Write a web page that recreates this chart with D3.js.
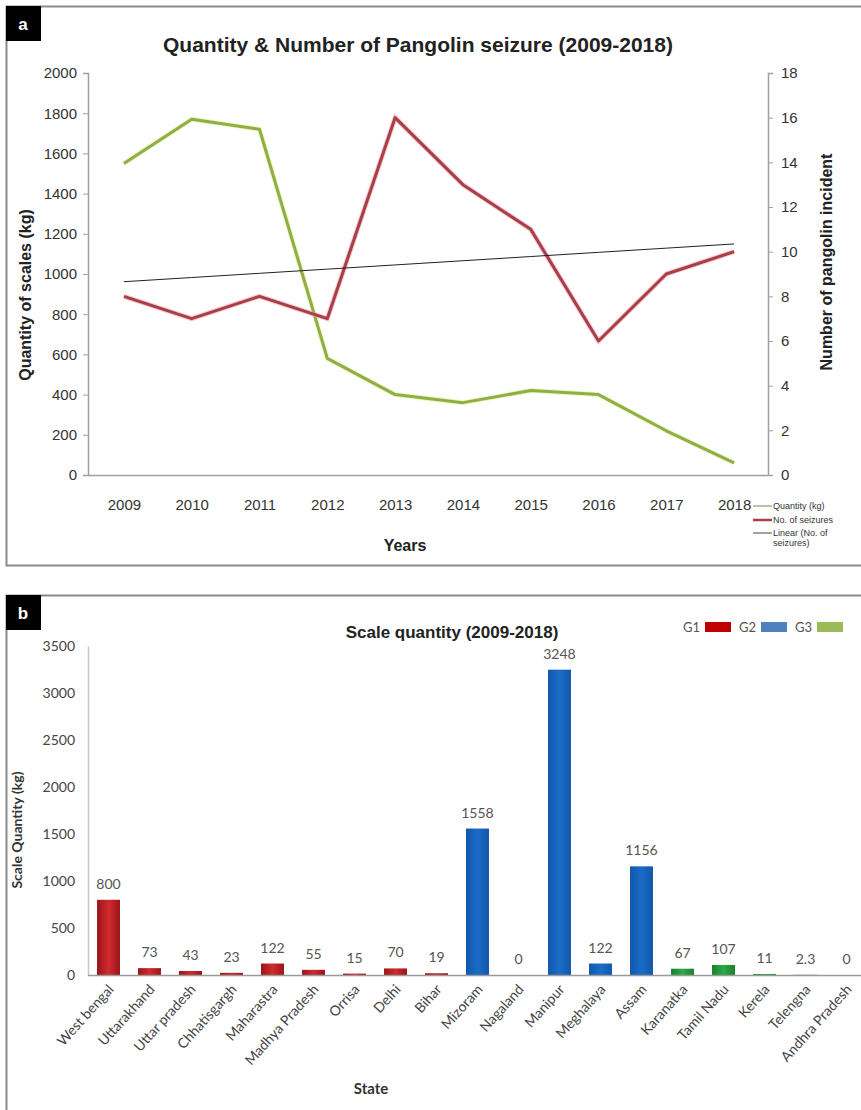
<!DOCTYPE html>
<html>
<head>
<meta charset="utf-8">
<script src="https://cdn.jsdelivr.net/npm/d3@7"></script>
<style>
  html, body { margin: 0; padding: 0; background: #fff; }
  svg { display: block; font-family: "Liberation Sans", Arial, sans-serif; }
</style>
</head>
<body>
<svg id="chart" width="861" height="1110"></svg>
<script>
// ---- Panel a: yearly seizures ----
const years = [2009, 2010, 2011, 2012, 2013, 2014, 2015, 2016, 2017, 2018];
const quantityKg = [1550, 1770, 1720, 580, 400, 360, 420, 400, 220, 60];
const seizures = [8, 7, 8, 7, 16, 13, 11, 6, 9, 10];
const leftTicks = [0, 200, 400, 600, 800, 1000, 1200, 1400, 1600, 1800, 2000];
const rightTicks = [0, 2, 4, 6, 8, 10, 12, 14, 16, 18];

// ---- Panel b: scale quantity by state ----
const states = ["West bengal", "Uttarakhand", "Uttar pradesh", "Chhatisgargh", "Maharastra",
  "Madhya Pradesh", "Orrisa", "Delhi", "Bihar", "Mizoram", "Nagaland", "Manipur",
  "Meghalaya", "Assam", "Karanatka", "Tamil Nadu", "Kerela", "Telengna", "Andhra Pradesh"];
const scaleQty = [800, 73, 43, 23, 122, 55, 15, 70, 19, 1558, 0, 3248, 122, 1156, 67, 107, 11, 2.3, 0];
const stateGroup = ["G1", "G1", "G1", "G1", "G1", "G1", "G1", "G1", "G1",
  "G2", "G2", "G2", "G2", "G2", "G3", "G3", "G3", "G3", "G3"];
const qtyTicks = [0, 500, 1000, 1500, 2000, 2500, 3000, 3500];
const groupNames = ["G1", "G2", "G3"];

const svg = d3.select("#chart");
const defs = svg.append("defs");

function barGradient(id, edge, mid) {
  const g = defs.append("linearGradient").attr("id", id)
    .attr("x1", "0%").attr("x2", "100%").attr("y1", "0%").attr("y2", "0%");
  g.append("stop").attr("offset", "0%").attr("stop-color", edge);
  g.append("stop").attr("offset", "50%").attr("stop-color", mid);
  g.append("stop").attr("offset", "100%").attr("stop-color", edge);
}
barGradient("gradG1", "#9a1519", "#d02a2e");
barGradient("gradG2", "#1257ab", "#1a6cc8");
barGradient("gradG3", "#17812c", "#2bab47");
const barFill = { G1: "url(#gradG1)", G2: "url(#gradG2)", G3: "url(#gradG3)" };
const legendFill = { G1: "#c00000", G2: "#4f81bd", G3: "#9bbb59" };

// ---------- Panel frames ----------
svg.append("path")
  .attr("d", "M861,6.5 H6.5 V565.5 H861")
  .attr("fill", "none").attr("stroke", "#8a8a8a").attr("stroke-width", 2);
svg.append("path")
  .attr("d", "M861,595.5 H6.5 V1110")
  .attr("fill", "none").attr("stroke", "#8a8a8a").attr("stroke-width", 2);

function panelTag(x, y, letter) {
  svg.append("rect").attr("x", x).attr("y", y).attr("width", 35).attr("height", 35).attr("fill", "#000");
  svg.append("text").attr("x", x + 17).attr("y", y + 24).attr("text-anchor", "middle")
    .attr("fill", "#fff").attr("font-size", 17).attr("font-weight", "bold").text(letter);
}
panelTag(6, 6, "a");
panelTag(6, 595, "b");

// ---------- Panel a ----------
const xA = d3.scalePoint().domain(years).range([90, 768]).padding(0.5);
const yL = d3.scaleLinear().domain([0, 2000]).range([475, 73]);
const yR = d3.scaleLinear().domain([0, 18]).range([475, 73]);

svg.append("text").attr("x", 418).attr("y", 52).attr("text-anchor", "middle")
  .attr("font-size", 21).attr("font-weight", "bold").attr("fill", "#222")
  .text("Quantity & Number  of Pangolin seizure (2009-2018)");

const axL = svg.append("g").attr("transform", "translate(88,0)")
  .call(d3.axisLeft(yL).tickValues(leftTicks).tickSize(5).tickPadding(6).tickFormat(d3.format("d")));
const axR = svg.append("g").attr("transform", "translate(768,0)")
  .call(d3.axisRight(yR).tickValues(rightTicks).tickSize(5).tickPadding(8).tickFormat(d3.format("d")));
const axB = svg.append("g").attr("transform", "translate(0,475)")
  .call(d3.axisBottom(xA).tickSize(0).tickPadding(24).tickFormat(d3.format("d")));
axB.select(".domain").attr("d", "M88,0.5H768");
[axL, axR, axB].forEach(a => {
  a.select(".domain").attr("stroke", "#a0a0a0").attr("stroke-width", 1.5);
  a.selectAll(".tick line").attr("stroke", "#a0a0a0");
  a.selectAll("text").attr("font-size", 15).attr("fill", "#333").attr("font-family", "Liberation Sans, Arial, sans-serif");
});

// trend line of seizures (least squares over the ten years)
const n = seizures.length;
const idx = d3.range(1, n + 1);
const mx = d3.mean(idx), my = d3.mean(seizures);
const slope = d3.sum(idx, (v, i) => (v - mx) * (seizures[i] - my)) / d3.sum(idx, v => (v - mx) ** 2);
const trend = idx.map(v => my + slope * (v - mx));

const lineL = d3.line().x((d, i) => xA(years[i])).y(d => yL(d));
const lineR = d3.line().x((d, i) => xA(years[i])).y(d => yR(d));

svg.append("path").datum(quantityKg).attr("d", lineL)
  .attr("fill", "none").attr("stroke", "#e4ef9c").attr("stroke-width", 5).attr("opacity", 0.6);
svg.append("path").datum(quantityKg).attr("d", lineL)
  .attr("fill", "none").attr("stroke", "#8fae45").attr("stroke-width", 3).attr("stroke-linejoin", "round");
svg.append("path").datum(seizures).attr("d", lineR)
  .attr("fill", "none").attr("stroke", "#f2a0a8").attr("stroke-width", 5).attr("opacity", 0.6);
svg.append("path").datum(seizures).attr("d", lineR)
  .attr("fill", "none").attr("stroke", "#a83e4a").attr("stroke-width", 3).attr("stroke-linejoin", "round");
svg.append("path").datum(trend).attr("d", lineR)
  .attr("fill", "none").attr("stroke", "#222").attr("stroke-width", 1);

svg.append("text").attr("transform", "translate(31,295) rotate(-90)").attr("text-anchor", "middle")
  .attr("font-size", 16).attr("font-weight", "bold").attr("fill", "#222").text("Quantity of scales (kg)");
svg.append("text").attr("transform", "translate(832,262) rotate(-90)").attr("text-anchor", "middle")
  .attr("font-size", 16).attr("font-weight", "bold").attr("fill", "#222").text("Number of pangolin incident");
svg.append("text").attr("x", 405).attr("y", 551).attr("text-anchor", "middle")
  .attr("font-size", 16).attr("font-weight", "bold").attr("fill", "#222").text("Years");

// legend
const legA = [
  { y: 506, stroke: "#8c9a72", w: 1.2, lines: ["Quantity (kg)"] },
  { y: 520, stroke: "#a83e4a", w: 2.5, lines: ["No. of seizures"] },
  { y: 533, stroke: "#444", w: 1, lines: ["Linear (No. of", "seizures)"] }
];
legA.forEach(r => {
  svg.append("line").attr("x1", 753).attr("x2", 772).attr("y1", r.y).attr("y2", r.y)
    .attr("stroke", r.stroke).attr("stroke-width", r.w);
  r.lines.forEach((t, k) => {
    svg.append("text").attr("x", 773).attr("y", r.y + 3 + k * 10).attr("font-size", 9)
      .attr("fill", "#333").text(t);
  });
});

// ---------- Panel b ----------
const xB = d3.scaleBand().domain(states).range([88, 867]).paddingInner(0.44).paddingOuter(0.22);
const yB = d3.scaleLinear().domain([0, 3500]).range([975, 646]);

svg.append("text").attr("x", 452).attr("y", 638).attr("text-anchor", "middle")
  .attr("font-size", 17).attr("font-weight", "bold").attr("fill", "#222")
  .text("Scale quantity (2009-2018)");

const axBL = svg.append("g").attr("transform", "translate(88,0)")
  .call(d3.axisLeft(yB).tickValues(qtyTicks).tickSize(0).tickPadding(13).tickFormat(d3.format("d")));
axBL.select(".domain").attr("stroke", "#c8c8c8").attr("stroke-width", 1.5);
axBL.selectAll("text").attr("font-size", 14).attr("fill", "#444").attr("font-family", "Lato, sans-serif");

svg.selectAll("rect.bar").data(scaleQty).join("rect").attr("class", "bar")
  .attr("x", (d, i) => xB(states[i]))
  .attr("width", xB.bandwidth())
  .attr("y", d => yB(d))
  .attr("height", d => yB(0) - yB(d))
  .attr("fill", (d, i) => barFill[stateGroup[i]]);

svg.append("line").attr("x1", 88).attr("x2", 861).attr("y1", 975.5).attr("y2", 975.5)
  .attr("stroke", "#9a9a9a").attr("stroke-width", 1.5);

svg.selectAll("text.val").data(scaleQty).join("text").attr("class", "val")
  .attr("x", (d, i) => xB(states[i]) + xB.bandwidth() / 2)
  .attr("y", d => yB(d) - 11)
  .attr("text-anchor", "middle").attr("font-size", 14).attr("fill", "#555")
  .attr("font-family", "Lato, sans-serif")
  .text(d => String(d));

svg.selectAll("text.cat").data(states).join("text").attr("class", "cat")
  .attr("transform", d => `translate(${xB(d) + xB.bandwidth() / 2 + 6},${990}) rotate(-48)`)
  .attr("text-anchor", "end").attr("font-size", 14).attr("fill", "#444")
  .attr("font-family", "Lato, sans-serif")
  .text(d => d);

svg.append("text").attr("transform", "translate(22,830) rotate(-90)").attr("text-anchor", "middle")
  .attr("font-size", 14).attr("font-weight", "bold").attr("fill", "#333")
  .attr("font-family", "Lato, sans-serif").text("Scale Quantity (kg)");
svg.append("text").attr("x", 371).attr("y", 1094).attr("text-anchor", "middle")
  .attr("font-size", 15).attr("font-weight", "bold").attr("fill", "#333")
  .attr("font-family", "Lato, sans-serif").text("State");

// legend
const legB = svg.append("g");
groupNames.forEach((g, i) => {
  const x0 = 683 + i * 56;
  legB.append("text").attr("x", x0).attr("y", 632).attr("font-size", 13).attr("fill", "#555")
    .attr("font-family", "Lato, sans-serif").text(g);
  legB.append("rect").attr("x", x0 + 22).attr("y", 622).attr("width", 26).attr("height", 10)
    .attr("fill", legendFill[g]);
});
</script>
</body>
</html>
